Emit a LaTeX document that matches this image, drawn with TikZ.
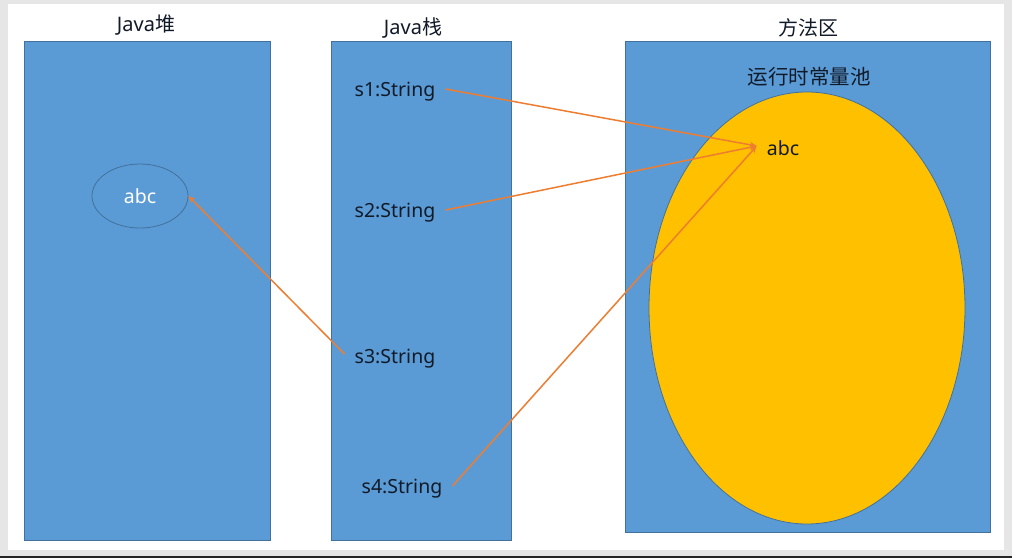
\documentclass[tikz,border=0pt]{standalone}
\usepackage{fontspec}
\setmainfont{Noto Sans}
\newfontfamily\cjk{Noto Sans CJK SC}
\usetikzlibrary{arrows.meta,shapes.geometric}
\definecolor{boxfill}{HTML}{5B9BD5}
\definecolor{boxline}{HTML}{41719C}
\definecolor{poolfill}{HTML}{FFC000}
\definecolor{arr}{HTML}{ED7D31}
\definecolor{txt}{HTML}{111A28}
\definecolor{bg}{HTML}{E6E6E6}
\tikzset{
  area/.style={draw=boxline, fill=boxfill, line width=0.8pt, inner sep=0pt, anchor=north west},
  title/.style={text=txt, font=\fontsize{20}{24}\selectfont, inner sep=0pt},
  strlabel/.style={text=txt, font=\fontsize{19.5}{23}\selectfont, inner xsep=10pt, inner ysep=2pt},
  ref/.style={draw=arr, line width=1.5pt, -{Stealth[length=7pt,width=6pt]}},
}
\begin{document}
\begin{tikzpicture}[x=1pt,y=-1pt]
\useasboundingbox (0,0) rectangle (1012,558);
\fill[bg] (0,0) rectangle (1012,558);
\fill[white] (8,4) rectangle (1004,550);
\fill[black!85] (0,556) rectangle (1012,558);
% areas
\node[area, minimum width=246pt, minimum height=499pt] (heap) at (24,41) {};
\node[area, minimum width=180pt, minimum height=499pt] (stack) at (331,41) {};
\node[area, minimum width=365pt, minimum height=491pt] (method) at (625,41) {};
% titles
\node[title] (theap) at (146,25) {Java{\cjk 堆}};
\node[title] (tstack) at (413,28) {Java{\cjk 栈}};
\node[title] (tmethod) at (808,28) {\cjk 方法区};
% pool
\node[draw=boxline, fill=poolfill, line width=0.8pt, ellipse, minimum width=316pt, minimum height=432pt, inner sep=0pt] (pool) at (807,308) {};
\node[title, font=\fontsize{20.5}{24}\selectfont] (tpool) at (809,77) {\cjk 运行时常量池};
\node[strlabel] (abc2) at (783,148) {abc};
% heap abc
\node[draw=boxline, line width=0.8pt, ellipse, minimum width=96pt, minimum height=64pt, inner sep=0pt,
      text=white, font=\fontsize{19.5}{23}\selectfont] (abc1) at (140,196) {abc};
% stack labels
\node[strlabel] (s1) at (395,92) {s1:String};
\node[strlabel] (s2) at (395,213) {s2:String};
\node[strlabel] (s3) at (395,359) {s3:String};
\node[strlabel] (s4) at (402,489) {s4:String};
% references
\draw[ref] ([yshift=3pt]s1.east) -- ([yshift=2pt]abc2.west);
\draw[ref] ([yshift=3pt]s2.east) -- ([yshift=2pt]abc2.west);
\draw[ref] ([yshift=3pt]s4.east) -- ([yshift=2pt]abc2.west);
\draw[ref] ([yshift=5pt]s3.west) -- (abc1.east);
\end{tikzpicture}
\end{document}
